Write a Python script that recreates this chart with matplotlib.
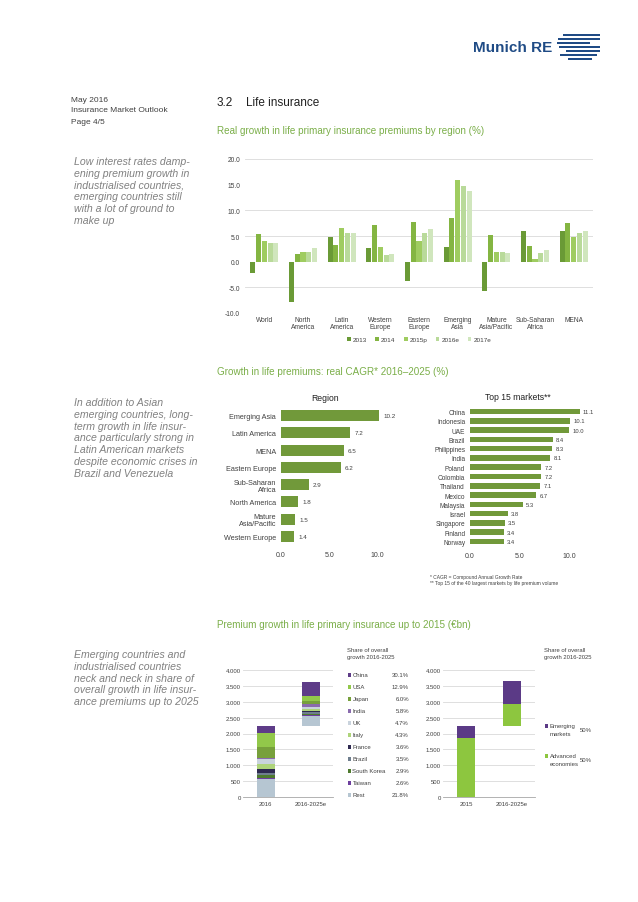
import numpy as np
import matplotlib.pyplot as plt
from matplotlib.patches import Rectangle

plt.rcParams['font.family'] = ['Liberation Sans', 'DejaVu Sans']

W, H = 638, 903

# DATA ##########################################
regions = ["World", "North\nAmerica", "Latin\nAmerica", "Western\nEurope", "Eastern\nEurope",
           "Emerging\nAsia", "Mature\nAsia/Pacific", "Sub-Saharan\nAfrica", "MENA"]
growth_years = ["2013", "2014", "2015p", "2016e", "2017e"]
growth_2013 = [-2.3, -7.9, 4.9, 2.6, -3.8, 2.9, -5.8, 6.0, 6.0]
growth_2014 = [5.3, 1.4, 3.3, 7.2, 7.7, 8.6, 5.1, 3.1, 7.6]
growth_2015 = [4.0, 1.8, 6.5, 2.8, 4.0, 16.0, 1.8, 0.6, 4.9]
growth_2016 = [3.6, 1.8, 5.6, 1.3, 5.6, 14.8, 1.8, 1.6, 5.6]
growth_2017 = [3.6, 2.7, 5.6, 1.4, 6.4, 13.7, 1.6, 2.2, 6.0]

cagr_regions = ["Emerging Asia", "Latin America", "MENA", "Eastern Europe", "Sub-Saharan\nAfrica",
                "North America", "Mature\nAsia/Pacific", "Western Europe"]
cagr_region_values = [10.2, 7.2, 6.5, 6.2, 2.9, 1.8, 1.5, 1.4]

top_markets = ["China", "Indonesia", "UAE", "Brazil", "Philippines", "India", "Poland", "Colombia",
               "Thailand", "Mexico", "Malaysia", "Israel", "Singapore", "Finland", "Norway"]
top_market_values = [11.1, 10.1, 10.0, 8.4, 8.3, 8.1, 7.2, 7.2, 7.1, 6.7, 5.3, 3.8, 3.5, 3.4, 3.4]

stack_names = ["China", "USA", "Japan", "India", "UK", "Italy", "France", "Brazil",
               "South Korea", "Taiwan", "Rest"]
stack_shares = ["30.1%", "12.9%", "6.0%", "5.8%", "4.7%", "4.3%", "3.6%", "3.5%", "2.9%", "2.6%", "21.8%"]
premiums_2016 = [210, 451, 336, 40, 170, 137, 126, 80, 85, 45, 556]
growth_2016_2025 = [420, 181, 84, 81, 66, 60, 50, 49, 41, 36, 305]

split_names = ["Emerging\nmarkets", "Advanced\neconomies"]
split_shares = ["50%", "50%"]
split_2015 = [366, 1874]
split_growth = [700, 700]

# STYLE #########################################
GREEN_HEAD = "#7AAE48"
BAR_GREEN = "#71993A"
GRID = "#D9D9D9"
TXT = "#404040"
growth_colors = ["#6A9A36", "#84B542", "#9FCC60", "#B9DA9A", "#D0E6BD"]
stack_colors = ["#5E3C88", "#92C84A", "#77A03C", "#8A6BAE", "#C9D3DD", "#AED47A",
                "#2E2950", "#6F7E8E", "#4E7A2E", "#6D3E9E", "#B6C6D2"]
split_colors = ["#5B3A86", "#8DC63F"]


def fx(x):
    return x / W


def fy(y):
    return 1 - y / H


def add_box(fig, left, top, right, bottom):
    return fig.add_axes([fx(left), fy(bottom), (right - left) / W, (bottom - top) / H])


def put(fig, x, y, s, **kw):
    kw.setdefault("va", "center")
    kw.setdefault("color", TXT)
    fig.text(fx(x), fy(y), s, **kw)


def clean(ax):
    for s in ax.spines.values():
        s.set_visible(False)
    ax.tick_params(length=0, colors=TXT)


fig = plt.figure(figsize=(W / 100, H / 100), dpi=100)

# HEADER ########################################
put(fig, 473, 48, "Munich RE", fontsize=11, fontweight="bold", color="#1F4B85")
logo = [(36, 563, 600), (40, 558, 600), (44, 557, 590), (48, 559, 600),
        (52, 566, 600), (56, 560, 597), (60, 568, 592)]
for yy, x0, x1 in logo:
    fig.add_artist(Rectangle((fx(x0), fy(yy + 1.3)), (x1 - x0) / W, 2.6 / H,
                             transform=fig.transFigure, color="#1F4B85", lw=0))

put(fig, 71, 100, "May 2016", fontsize=6)
put(fig, 71, 111, "Insurance Market Outlook", fontsize=6)
put(fig, 71, 122, "Page 4/5", fontsize=6)
put(fig, 217, 103, "3.2", fontsize=8.5, color="#202020")
put(fig, 246, 103, "Life insurance", fontsize=8.5, color="#202020")

put(fig, 217, 131, "Real growth in life primary insurance premiums by region (%)",
    fontsize=7.1, color=GREEN_HEAD)
put(fig, 217, 372, "Growth in life premiums: real CAGR* 2016\u20132025 (%)",
    fontsize=7.1, color=GREEN_HEAD)
put(fig, 217, 625, "Premium growth in life primary insurance up to 2015 (\u20acbn)",
    fontsize=7.1, color=GREEN_HEAD)

side_notes = [
    (162, ["Low interest rates damp-", "ening premium growth in", "industrialised countries,",
           "emerging countries still", "with a lot of ground to", "make up"]),
    (403, ["In addition to Asian", "emerging countries, long-", "term growth in life insur-",
           "ance particularly strong in", "Latin American markets",
           "despite economic crises in", "Brazil and Venezuela"]),
    (655, ["Emerging countries and", "industrialised countries", "neck and neck in share of",
           "overall growth in life insur-", "ance premiums up to 2025"]),
]
for y0, lines in side_notes:
    for i, line in enumerate(lines):
        put(fig, 74, y0 + i * 11.8, line, fontsize=7.6, style="italic", color="#808080")

# REAL GROWTH BY REGION #########################
ax = add_box(fig, 245, 160, 593, 314)
x = np.arange(len(regions))
series = [growth_2013, growth_2014, growth_2015, growth_2016, growth_2017]
for i, (vals, lab, col) in enumerate(zip(series, growth_years, growth_colors)):
    ax.bar(x + (i - 2) * 0.15, vals, 0.13, color=col, label=lab, zorder=2)
ax.set_xlim(-0.5, len(regions) - 0.5)
ax.set_ylim(-10, 20)
yt = np.arange(-10, 21, 5)
ax.set_yticks(yt, [f"{v:.1f}" for v in yt], fontsize=4.8)
for v in [20, 10, 5, -5, -10]:
    ax.axhline(v, color=GRID, lw=0.6, zorder=0)
ax.set_xticks(x, regions, fontsize=4.8, linespacing=1.1)
clean(ax)
ax.tick_params(axis="y", pad=3.5)
ax.tick_params(axis="x", pad=2)
ax.legend(loc="center", bbox_to_anchor=(0.5, -0.17), ncol=5, frameon=False, fontsize=4.6,
          handlelength=0.6, handleheight=0.6, handletextpad=0.3, columnspacing=1.3,
          labelcolor=TXT)

# CAGR BY REGION ################################
ax = add_box(fig, 281, 408, 387, 546)
y = np.arange(len(cagr_regions))
ax.barh(y, cagr_region_values, height=0.65, color=BAR_GREEN)
for yi, v in zip(y, cagr_region_values):
    ax.text(v + 0.4, yi, f"{v:.1f}", va="center", fontsize=4.5, color=TXT)
ax.set_ylim(len(cagr_regions) - 0.5, -0.5)
ax.set_xlim(0, 11)
ax.set_yticks(y, cagr_regions, fontsize=5.2, linespacing=1.05)
ax.set_xticks([0, 5, 10], ["0.0", "5.0", "10.0"], fontsize=5)
clean(ax)
ax.tick_params(axis="y", pad=3.5)
ax.tick_params(axis="x", pad=4)
put(fig, 325, 399, "Region", fontsize=6.2, ha="center", color="#202020")

# CAGR TOP 15 ###################################
ax = add_box(fig, 470, 408, 584, 547)
y = np.arange(len(top_markets))
ax.barh(y, top_market_values, height=0.6, color=BAR_GREEN)
for yi, v in zip(y, top_market_values):
    ax.text(v + 0.3, yi, f"{v:.1f}", va="center", fontsize=4.2, color=TXT)
ax.set_ylim(len(top_markets) - 0.5, -0.5)
ax.set_xlim(0, 11.5)
ax.set_yticks(y, top_markets, fontsize=4.7)
ax.set_xticks([0, 5, 10], ["0.0", "5.0", "10.0"], fontsize=5)
clean(ax)
ax.tick_params(axis="y", pad=3.5)
ax.tick_params(axis="x", pad=4)
put(fig, 518, 398, "Top 15 markets**", fontsize=6.2, ha="center", color="#202020")
put(fig, 430, 577, "* CAGR = Compound Annual Growth Rate", fontsize=3.5)
put(fig, 430, 584, "** Top 15 of the 40 largest markets by life premium volume", fontsize=3.5)


def money_axis(ax, labels):
    ax.set_ylim(0, 4000)
    ax.set_xlim(-0.5, 1.5)
    yt = np.arange(0, 4001, 500)
    ax.set_yticks(yt, [f"{v:,}".replace(",", ".") for v in yt], fontsize=4.3)
    ax.set_xticks([0, 1], labels, fontsize=4.3)
    ax.yaxis.grid(True, color=GRID, lw=0.6)
    ax.set_axisbelow(True)
    clean(ax)
    ax.spines["bottom"].set_visible(True)
    ax.spines["bottom"].set_color("#A6A6A6")
    ax.spines["bottom"].set_linewidth(0.6)
    ax.tick_params(axis="y", pad=1.5)
    ax.tick_params(axis="x", pad=3)


# PREMIUM GROWTH BY MARKET ######################
ax = add_box(fig, 243, 671, 333, 798)
b1, b2 = 0, sum(premiums_2016)
for k in reversed(range(len(stack_names))):
    ax.bar(0, premiums_2016[k], 0.4, bottom=b1, color=stack_colors[k])
    ax.bar(1, growth_2016_2025[k], 0.4, bottom=b2, color=stack_colors[k])
    b1 += premiums_2016[k]
    b2 += growth_2016_2025[k]
money_axis(ax, ["2016", "2016-2025e"])

put(fig, 347, 651, "Share of overall", fontsize=4.2)
put(fig, 347, 658, "growth 2016-2025", fontsize=4.2)
for i, (name, share, col) in enumerate(zip(stack_names, stack_shares, stack_colors)):
    yy = 676 + i * 11.97
    fig.add_artist(Rectangle((fx(347.5), fy(yy + 1.8)), 3.6 / W, 3.6 / H,
                             transform=fig.transFigure, color=col, lw=0))
    put(fig, 352.5, yy, name, fontsize=4.3)
    put(fig, 409, yy, share, fontsize=4.3, ha="right")

# PREMIUM GROWTH ADVANCED VS EMERGING ###########
ax = add_box(fig, 443, 671, 535, 798)
b1, b2 = 0, sum(split_2015)
for k in reversed(range(len(split_names))):
    ax.bar(0, split_2015[k], 0.4, bottom=b1, color=split_colors[k])
    ax.bar(1, split_growth[k], 0.4, bottom=b2, color=split_colors[k])
    b1 += split_2015[k]
    b2 += split_growth[k]
money_axis(ax, ["2015", "2016-2025e"])

put(fig, 544, 651, "Share of overall", fontsize=4.2)
put(fig, 544, 658, "growth 2016-2025", fontsize=4.2)
for i, (name, share, col) in enumerate(zip(split_names, split_shares, split_colors)):
    yy = 727 + i * 30
    fig.add_artist(Rectangle((fx(544.5), fy(yy + 1.8)), 3.6 / W, 3.6 / H,
                             transform=fig.transFigure, color=col, lw=0))
    first, second = name.split("\n")
    put(fig, 549.5, yy, first, fontsize=4.3)
    put(fig, 549.5, yy + 7, second, fontsize=4.3)
    put(fig, 592, yy + 4, share, fontsize=4.3, ha="right")

fig.savefig("out.png", dpi=100)
